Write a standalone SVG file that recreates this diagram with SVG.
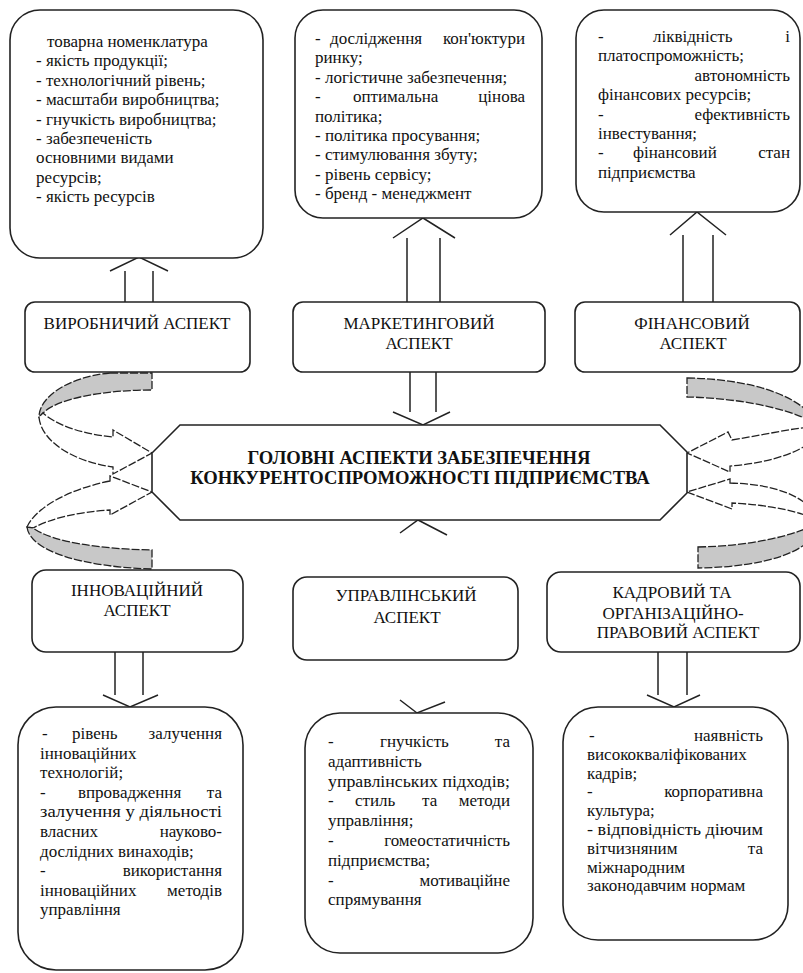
<svg xmlns="http://www.w3.org/2000/svg" width="803" height="973" viewBox="0 0 803 973">
<style>
.box{fill:#fff;stroke:#222;stroke-width:1.6}
.t{font-family:"Liberation Serif","Liberation Sans",sans-serif;font-size:17px;fill:#111}
.c{text-anchor:middle}
.e{text-anchor:end}
.h{font-weight:bold;font-size:18.6px}
.ln{fill:none;stroke:#222;stroke-width:1.5}
.sw{stroke:#222;stroke-width:1.3;stroke-dasharray:8 2}
.g{fill:#c8c8c8}
.w{fill:#fff}
</style>
<rect width="803" height="973" fill="#fff"/>

<g id="connectors">
  <path class="ln" d="M125,302V271M153,302V271M110,271L139,257L168,271"/>
  <path class="ln" d="M407,302V238M440,302V238M393,238L423,218L455,238"/>
  <path class="ln" d="M683,302V235M713,302V235M670,235L697,212L726,235"/>
  <path class="ln" d="M410,372V412M436,372V412M393,412L423,425L450,412"/>
  <path class="ln" d="M115,652V695M143,652V695M103,695L130,707L158,695"/>
  <path class="ln" d="M658,652V695M687,652V695M647,695L674,707L700,695"/>
  <path class="ln" d="M400,533L418,520L447,535"/>
  <path class="ln" d="M400,700L417,713L445,702"/>
  <path class="sw g" d="M110,373L152,373L152,390C105,390 58,398 43,413L39,417C39,397 68,377 110,373Z"/>
  <path class="sw w" d="M39,417C41,442 75,462 113,467L113,474L152,453L113,430L113,437C80,434 55,424 43,413Z"/>
  <path class="sw w" d="M110,481C70,489 36,507 27,527L33,528C52,518 78,512 110,510L110,515L152,492L110,476Z"/>
  <path class="sw g" d="M27,527C30,552 85,567 152,569L152,550C100,549 52,542 33,528Z"/>
  <path class="sw g" d="M687,378C750,379 805,395 820,428C805,412 745,398 687,397Z"/>
  <path class="sw w" d="M820,428C815,450 770,463 730,466L730,472L687,453L728,432L732,440C775,433 805,425 820,428Z"/>
  <path class="sw w" d="M730,483C770,484 808,494 820,522C805,512 770,505 732,503L732,509L687,492L730,479Z"/>
  <path class="sw g" d="M698,547C750,546 795,536 820,522C815,552 765,567 698,568Z"/>
</g>

<g id="center">
  <polygon class="box" points="180,425 660,425 687,452 687,493 660,520 180,520 152,492 152,453"/>
  <text class="t h c" x="419" y="464">ГОЛОВНІ АСПЕКТИ ЗАБЕЗПЕЧЕННЯ</text>
  <text class="t h c" x="420" y="484">КОНКУРЕНТОСПРОМОЖНОСТІ ПІДПРИЄМСТВА</text>
</g>

<g id="prod-list">
  <rect class="box" x="10" y="10" width="253" height="248" rx="30"/>
  <text class="t" x="47" y="47">товарна номенклатура</text>
  <text class="t" x="36" y="66.4">- якість продукції;</text>
  <text class="t" x="36" y="85.8">- технологічний рівень;</text>
  <text class="t" x="36" y="105.2">- масштаби виробництва;</text>
  <text class="t" x="36" y="124.6">- гнучкість виробництва;</text>
  <text class="t" x="36" y="144">- забезпеченість</text>
  <text class="t" x="36" y="163.4">основними видами</text>
  <text class="t" x="36" y="182.8">ресурсів;</text>
  <text class="t" x="36" y="202.2">- якість ресурсів</text>
</g>

<g id="mark-list">
  <rect class="box" x="295" y="10" width="247" height="208" rx="28"/>
  <text class="t" x="315" y="44">-</text><text class="t" x="330" y="44">дослідження</text><text class="t e" x="525" y="44">кон'юктури</text>
  <text class="t" x="315" y="63.4">ринку;</text>
  <text class="t" x="315" y="82.8">- логістичне забезпечення;</text>
  <text class="t" x="315" y="102.2">-</text><text class="t" x="353" y="102.2">оптимальна</text><text class="t e" x="525" y="102.2">цінова</text>
  <text class="t" x="315" y="121.6">політика;</text>
  <text class="t" x="315" y="141">- політика просування;</text>
  <text class="t" x="315" y="160.4">- стимулювання збуту;</text>
  <text class="t" x="315" y="179.8">- рівень сервісу;</text>
  <text class="t" x="315" y="199.2">- бренд - менеджмент</text>
</g>

<g id="fin-list">
  <rect class="box" x="576" y="10" width="224" height="202" rx="28"/>
  <text class="t" x="598" y="42">-</text><text class="t" x="653" y="42">ліквідність</text><text class="t e" x="790" y="42">і</text>
  <text class="t" x="598" y="61.4">платоспроможність;</text>
  <text class="t e" x="790" y="80.8">автономність</text>
  <text class="t" x="598" y="100.2">фінансових ресурсів;</text>
  <text class="t" x="598" y="119.6">-</text><text class="t e" x="790" y="119.6">ефективність</text>
  <text class="t" x="598" y="139">інвестування;</text>
  <text class="t" x="598" y="158.4">-</text><text class="t" x="633" y="158.4">фінансовий</text><text class="t e" x="790" y="158.4">стан</text>
  <text class="t" x="598" y="177.8">підприємства</text>
</g>

<g id="prod">
  <rect class="box" x="25" y="302" width="225" height="70" rx="10"/>
  <text class="t c" x="137" y="329">ВИРОБНИЧИЙ АСПЕКТ</text>
</g>
<g id="mark">
  <rect class="box" x="293" y="302" width="252" height="70" rx="10"/>
  <text class="t c" x="419" y="329">МАРКЕТИНГОВИЙ</text>
  <text class="t c" x="419" y="349">АСПЕКТ</text>
</g>
<g id="fin">
  <rect class="box" x="575" y="302" width="225" height="70" rx="10"/>
  <text class="t c" x="692" y="329">ФІНАНСОВИЙ</text>
  <text class="t c" x="693" y="349">АСПЕКТ</text>
</g>

<g id="innov">
  <rect class="box" x="32" y="570" width="211" height="82" rx="14"/>
  <text class="t c" x="137" y="596">ІННОВАЦІЙНИЙ</text>
  <text class="t c" x="137" y="616">АСПЕКТ</text>
</g>
<g id="manag">
  <rect class="box" x="293" y="577" width="225" height="83" rx="14"/>
  <text class="t c" x="406" y="601">УПРАВЛІНСЬКИЙ</text>
  <text class="t c" x="407" y="623">АСПЕКТ</text>
</g>
<g id="staff">
  <rect class="box" x="547" y="572" width="253" height="80" rx="14"/>
  <text class="t c" x="672" y="598">КАДРОВИЙ ТА</text>
  <text class="t c" x="673" y="619">ОРГАНІЗАЦІЙНО-</text>
  <text class="t c" x="678" y="638">ПРАВОВИЙ АСПЕКТ</text>
</g>

<g id="innov-list">
  <rect class="box" x="18" y="707" width="225" height="263" rx="38"/>
  <text class="t" x="42" y="739">-</text><text class="t" x="72" y="739">рівень</text><text class="t e" x="222" y="739">залучення</text>
  <text class="t" x="40" y="758.6">інноваційних</text>
  <text class="t" x="40" y="778.2">технологій;</text>
  <text class="t" x="40" y="797.8">-</text><text class="t" x="78" y="797.8">впровадження</text><text class="t e" x="222" y="797.8">та</text>
  <text class="t" x="40" y="817.4" textLength="182" lengthAdjust="spacingAndGlyphs">залучення у діяльності</text>
  <text class="t" x="40" y="837">власних</text><text class="t e" x="222" y="837">науково-</text>
  <text class="t" x="40" y="856.6">дослідних винаходів;</text>
  <text class="t" x="40" y="876.2">-</text><text class="t e" x="222" y="876.2">використання</text>
  <text class="t" x="40" y="895.8">інноваційних</text><text class="t e" x="222" y="895.8">методів</text>
  <text class="t" x="40" y="915.4">управління</text>
</g>

<g id="manag-list">
  <rect class="box" x="305" y="713" width="228" height="240" rx="35"/>
  <text class="t" x="328" y="747">-</text><text class="t" x="380" y="747">гнучкість</text><text class="t e" x="510" y="747">та</text>
  <text class="t" x="328" y="766.8">адаптивність</text>
  <text class="t" x="328" y="786.6" textLength="182" lengthAdjust="spacingAndGlyphs">управлінських підходів;</text>
  <text class="t" x="328" y="806.4">-</text><text class="t" x="355" y="806.4">стиль</text><text class="t" x="422" y="806.4">та</text><text class="t e" x="510" y="806.4">методи</text>
  <text class="t" x="328" y="826.2">управління;</text>
  <text class="t" x="328" y="846">-</text><text class="t e" x="510" y="846">гомеостатичність</text>
  <text class="t" x="328" y="865.8">підприємства;</text>
  <text class="t" x="328" y="885.6">-</text><text class="t e" x="510" y="885.6">мотиваційне</text>
  <text class="t" x="328" y="905.4">спрямування</text>
</g>

<g id="staff-list">
  <rect class="box" x="563" y="707" width="225" height="233" rx="35"/>
  <text class="t" x="589" y="741">-</text><text class="t e" x="763" y="741">наявність</text>
  <text class="t" x="587" y="759.8">висококваліфікованих</text>
  <text class="t" x="587" y="778.6">кадрів;</text>
  <text class="t" x="587" y="797.4">-</text><text class="t e" x="763" y="797.4">корпоративна</text>
  <text class="t" x="587" y="816.2">культура;</text>
  <text class="t" x="587" y="835" textLength="176" lengthAdjust="spacingAndGlyphs">- відповідність діючим</text>
  <text class="t" x="587" y="853.8">вітчизняним</text><text class="t e" x="763" y="853.8">та</text>
  <text class="t" x="587" y="872.6">міжнародним</text>
  <text class="t" x="587" y="891.4">законодавчим нормам</text>
</g>
</svg>
